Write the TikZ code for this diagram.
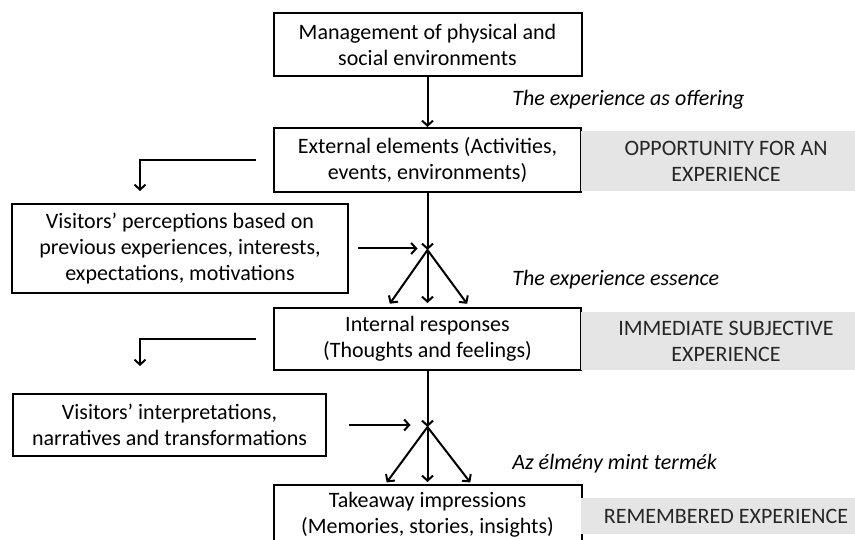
\documentclass[tikz,border=0pt]{standalone}
\usepackage{fontspec}
\setmainfont{Carlito}
\usetikzlibrary{positioning, arrows.meta}

\begin{document}
\begin{tikzpicture}[x=1pt, y=-1pt, line width=2pt, >={Straight Barb[length=5pt, width=11pt]},
    font=\fontsize{22}{26}\selectfont,
    box/.style={draw, align=center, inner sep=0pt},
    tag/.style={fill=black!10, text=black!85, align=center, inner sep=0pt, minimum width=290pt},
    note/.style={anchor=west, font=\fontsize{22}{26}\selectfont\itshape}]
    \useasboundingbox (0,0) rectangle (855,540);

    \node[box, minimum width=308pt, minimum height=63pt] (1) at (427.5,44.5) {Management of physical and\\social environments};
    \node[box, minimum width=307pt, minimum height=64pt] (2) at (427.5,160) {External elements (Activities,\\events, environments)};
    \node[box, minimum width=336pt, minimum height=89pt] (3) at (180,248.5) {Visitors’ perceptions based on\\previous experiences, interests,\\expectations, motivations};
    \node[box, minimum width=307pt, minimum height=62pt] (4) at (427.5,339) {Internal responses\\(Thoughts and feelings)};
    \node[box, minimum width=313pt, minimum height=62pt] (5) at (169.5,425) {Visitors’ interpretations,\\narratives and transformations};
    \node[box, minimum width=308pt, minimum height=60pt] (6) at (427.5,515) {Takeaway impressions\\(Memories, stories, insights)};

    \node[tag, minimum height=60pt] (g1) at (726,161) {OPPORTUNITY FOR AN\\EXPERIENCE};
    \node[tag, minimum height=58pt] (g2) at (726,341) {IMMEDIATE SUBJECTIVE\\EXPERIENCE};
    \node[tag, minimum height=36pt] (g3) at (726,516) {REMEMBERED EXPERIENCE};

    \node[note] (n1) at (508,100) {The experience as offering};
    \node[note] (n2) at (508,280) {The experience essence};
    \node[note] (n3) at (508,464) {Az élmény mint termék};

    \coordinate (j1) at (427.5,250);
    \coordinate (j2) at (427.5,427);

    % first step
    \draw[->] (1) -- (2);
    \draw[->, shorten <=17pt, shorten >=12pt] (2.west) -| ([xshift=-40pt]3.north);
    \draw[->] (2) -- (j1);
    \draw[->, shorten <=9pt, shorten >=10pt] (3.east) -- (3.east -| j1);
    \draw[->, shorten >=4pt] (j1) -- ([xshift=-40pt]4.north);
    \draw[->, shorten >=4pt] (j1) -- (4.north);
    \draw[->, shorten >=4pt] (j1) -- ([xshift=42pt]4.north);

    % second step
    \draw[->, shorten <=17pt, shorten >=27pt] (4.west) -| ([xshift=-29.5pt]5.north);
    \draw[->] (4) -- (j2);
    \draw[->, shorten <=22pt, shorten >=17pt] (5.east) -- (5.east -| j2);
    \draw[->, shorten >=2pt] (j2) -- ([xshift=-42pt]6.north);
    \draw[->, shorten >=2pt] (j2) -- (6.north);
    \draw[->, shorten >=2pt] (j2) -- ([xshift=44pt]6.north);
\end{tikzpicture}
\end{document}
